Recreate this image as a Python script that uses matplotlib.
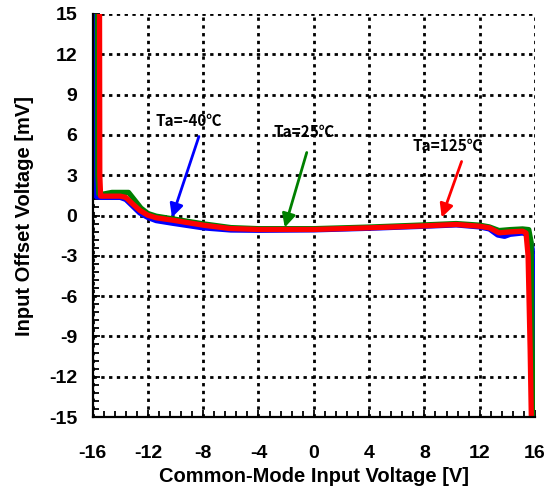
import matplotlib
matplotlib.use("Agg")
import matplotlib.pyplot as plt
from matplotlib.ticker import MultipleLocator
import numpy as np

plt.rcParams['font.family'] = ['Liberation Sans', 'DejaVu Sans', 'Noto Sans CJK JP']
plt.rcParams['font.weight'] = 'bold'
plt.rcParams['axes.unicode_minus'] = False

# Data (Common-mode voltage [V], offset voltage [mV])
x_m40 = [-15.8, -15.78, -15.72, -15.5, -14.0, -13.6, -13.1, -12.6, -12.0, -11.4, -10.2, -8.0, -6.0, -4.0, 0.0, 4.0, 8.0, 10.3, 12.0, 12.7, 13.3, 13.8, 14.2, 15.1, 15.55, 15.8, 15.95]
y_m40 = [16.0, 3.0, 1.4, 1.35, 1.35, 1.2, 0.7, 0.2, -0.15, -0.38, -0.58, -0.92, -1.08, -1.1, -1.07, -0.95, -0.8, -0.7, -0.85, -1.0, -1.45, -1.55, -1.4, -1.3, -1.45, -2.5, -16.0]

x_25 = [-15.65, -15.62, -15.55, -15.2, -14.6, -13.4, -13.0, -12.5, -12.0, -11.4, -10.2, -8.0, -6.0, -4.0, 0.0, 4.0, 8.0, 10.3, 12.0, 12.7, 13.4, 14.2, 15.1, 15.55, 15.72, 15.85]
y_25 = [16.0, 3.0, 1.6, 1.6, 1.72, 1.72, 1.2, 0.55, 0.15, -0.05, -0.25, -0.62, -0.9, -0.98, -0.98, -0.86, -0.7, -0.6, -0.72, -0.85, -1.12, -1.05, -1.0, -1.05, -2.0, -16.0]

x_125 = [-15.5, -15.48, -15.42, -14.0, -13.6, -13.06, -12.57, -12.0, -11.4, -10.2, -8.0, -6.07, -4.0, 0.0, 4.0, 8.0, 10.3, 12.0, 12.7, 13.4, 14.2, 15.1, 15.35, 15.5, 15.65, 15.75]
y_125 = [16.0, 3.0, 1.44, 1.44, 1.35, 0.82, 0.37, 0.02, -0.17, -0.35, -0.72, -0.97, -1.04, -1.04, -0.92, -0.77, -0.67, -0.8, -0.92, -1.29, -1.22, -1.17, -1.3, -3.0, -10.0, -16.0]

labels = ['Ta=-40\u2103', 'Ta=25\u2103', 'Ta=125\u2103']
colors = ['#0000ff', '#008000', '#ff0000']
label_pos = [(-9.03, 7.0), (-0.72, 6.18), (9.68, 5.21)]
arrow_tail = [(-8.31, 5.88), (-0.51, 4.69), (10.69, 4.02)]
arrow_head = [(-10.26, -0.15), (-2.1, -0.89), (9.25, -0.15)]

xticks = list(range(-16, 17, 4))
yticks = list(range(-15, 16, 3))

fig = plt.figure(figsize=(5.59, 4.91), dpi=100)
ax = fig.add_axes([92.6 / 559, 1 - 417 / 491, (535 - 92.6) / 559, (417 - 14) / 491])

ax.set_xlim(-16, 16)
ax.set_ylim(-15, 15)
ax.set_xticks(xticks)
ax.set_yticks(yticks)
ax.xaxis.set_minor_locator(MultipleLocator(0.8))
ax.yaxis.set_minor_locator(MultipleLocator(0.6))
ax.grid(True, which='major', color='black', linestyle=(0, (1.2, 1.6)), linewidth=2.0, zorder=1)
ax.set_axisbelow(True)

for xs, ys, c in zip([x_m40, x_25, x_125], [y_m40, y_25, y_125], colors):
    ax.plot(xs, ys, color=c, linewidth=3.8, solid_joinstyle='round', zorder=3)

for lab, c, lp, at, ah in zip(labels, colors, label_pos, arrow_tail, arrow_head):
    ax.text(lp[0], lp[1], lab, ha='center', va='center', fontsize=11, fontweight='bold',
            family=['Noto Sans CJK JP', 'DejaVu Sans'], zorder=5)
    ax.annotate('', xy=ah, xytext=at,
                arrowprops=dict(arrowstyle='-|>', color=c, lw=2.0, mutation_scale=20,
                                shrinkA=0, shrinkB=0), zorder=5)

for s in ['top', 'right']:
    ax.spines[s].set_visible(False)
for s in ['left', 'bottom']:
    ax.spines[s].set_linewidth(1.6)
    ax.spines[s].set_zorder(4)

ax.tick_params(which='both', direction='in', top=False, right=False, width=1.3)
ax.tick_params(which='major', length=5)
ax.tick_params(which='minor', length=4)
ax.tick_params(axis='x', which='major', pad=20, labelsize=14)
ax.tick_params(axis='y', which='major', pad=11, labelsize=14)
for t in ax.get_xticklabels() + ax.get_yticklabels():
    t.set_fontweight('bold')

ax.set_xlabel('Common-Mode Input Voltage [V]', fontsize=14.5, fontweight='bold', labelpad=4)
ax.set_ylabel('Input Offset Voltage [mV]', fontsize=14.5, fontweight='bold', labelpad=11)

fig.text(303 / 559, 1 - 2 / 491, 'VS=\u00b116V', ha='center', va='bottom', fontsize=12, fontweight='bold')

fig.savefig('out.png', dpi=100)
